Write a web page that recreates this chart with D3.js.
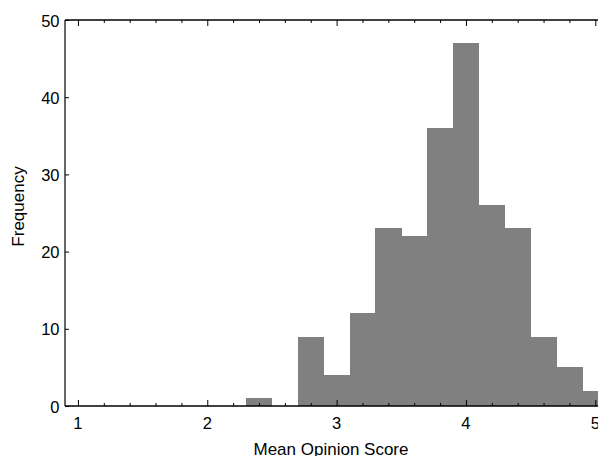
<!DOCTYPE html>
<html>
<head>
<meta charset="utf-8">
<script src="https://cdn.jsdelivr.net/npm/d3@7"></script>
<style>
  body { margin: 0; background: #fff; }
  svg { display: block; font-family: "Liberation Sans", Arial, sans-serif; }
</style>
</head>
<body>
<svg width="598" height="456"></svg>
<script>
// histogram bins (lower edge) and counts
const binStarts = [2.3, 2.7, 2.9, 3.1, 3.3, 3.5, 3.7, 3.9, 4.1, 4.3, 4.5, 4.7, 4.9];
const binWidth = 0.2;
const counts = [1, 9, 4, 12, 23, 22, 36, 47, 26, 23, 9, 5, 2];
const xTicks = [1, 2, 3, 4, 5];
const yTicks = [0, 10, 20, 30, 40, 50];

const svg = d3.select("svg");
const plotLeft = 65;
const plotTop = 20;
const plotBottom = 406;

const xScale = d3.scaleLinear().domain([0.9, 5]).range([plotLeft, 595.3]);
const yScale = d3.scaleLinear().domain([0, 50]).range([plotBottom, plotTop]);

const bins = binStarts.map((s, i) => ({ x0: s, x1: s + binWidth, n: counts[i] }));

svg
  .selectAll("rect.bar")
  .data(bins)
  .enter()
  .append("rect")
  .attr("class", "bar")
  .attr("x", (d) => xScale(d.x0))
  .attr("y", (d) => yScale(d.n))
  .attr("width", (d) => xScale(d.x1) - xScale(d.x0) + 0.5)
  .attr("height", (d) => yScale(0) - yScale(d.n))
  .attr("fill", "#808080")
  .attr("shape-rendering", "crispEdges");

const minor = d3.range(1, 5.01, 0.2).filter((v) => Math.abs(v - Math.round(v)) > 1e-6);

// bottom and top frame axes, ticks pointing inward
const xBottom = d3.axisTop(xScale).tickValues(xTicks).tickSize(6).tickFormat("");
const xBottomMinor = d3.axisTop(xScale).tickValues(minor).tickSize(3).tickFormat("");
svg.append("g").attr("transform", `translate(0, ${plotBottom})`).call(xBottom);
svg.append("g").attr("transform", `translate(0, ${plotBottom})`).call(xBottomMinor);

const xTop = d3.axisBottom(xScale).tickValues(xTicks).tickSize(6).tickFormat("");
const xTopMinor = d3.axisBottom(xScale).tickValues(minor).tickSize(3).tickFormat("");
svg.append("g").attr("transform", `translate(0, ${plotTop})`).call(xTop);
svg.append("g").attr("transform", `translate(0, ${plotTop})`).call(xTopMinor);

const yAxis = d3.axisRight(yScale).tickValues(yTicks).tickSize(4).tickFormat("");
svg.append("g").attr("transform", `translate(${plotLeft}, 0)`).call(yAxis);

svg.selectAll(".domain").remove();
svg.selectAll(".tick line").attr("stroke", "#000").attr("stroke-width", 1);

// axis lines
svg.append("line").attr("x1", plotLeft).attr("x2", 598).attr("y1", plotBottom).attr("y2", plotBottom)
  .attr("stroke", "#000").attr("stroke-width", 1.6);
svg.append("line").attr("x1", plotLeft).attr("x2", 598).attr("y1", plotTop).attr("y2", plotTop)
  .attr("stroke", "#000").attr("stroke-width", 1.6);
svg.append("line").attr("x1", plotLeft).attr("x2", plotLeft).attr("y1", plotTop).attr("y2", plotBottom)
  .attr("stroke", "#000").attr("stroke-width", 1.2);

// tick labels
svg.selectAll("text.xl")
  .data(xTicks)
  .enter()
  .append("text")
  .attr("class", "xl")
  .attr("x", (d) => xScale(d))
  .attr("y", plotBottom + 22.5)
  .attr("text-anchor", "middle")
  .attr("font-size", 16.5)
  .text((d) => d);

svg.selectAll("text.yl")
  .data(yTicks)
  .enter()
  .append("text")
  .attr("class", "yl")
  .attr("x", plotLeft - 5.5)
  .attr("y", (d) => yScale(d) + 6.5)
  .attr("text-anchor", "end")
  .attr("font-size", 16.5)
  .text((d) => d);

svg.append("text")
  .attr("x", 331)
  .attr("y", 455)
  .attr("text-anchor", "middle")
  .attr("font-size", 17)
  .text("Mean Opinion Score");

svg.append("text")
  .attr("transform", "translate(24, 206.5) rotate(-90)")
  .attr("text-anchor", "middle")
  .attr("font-size", 17)
  .text("Frequency");
</script>
</body>
</html>
